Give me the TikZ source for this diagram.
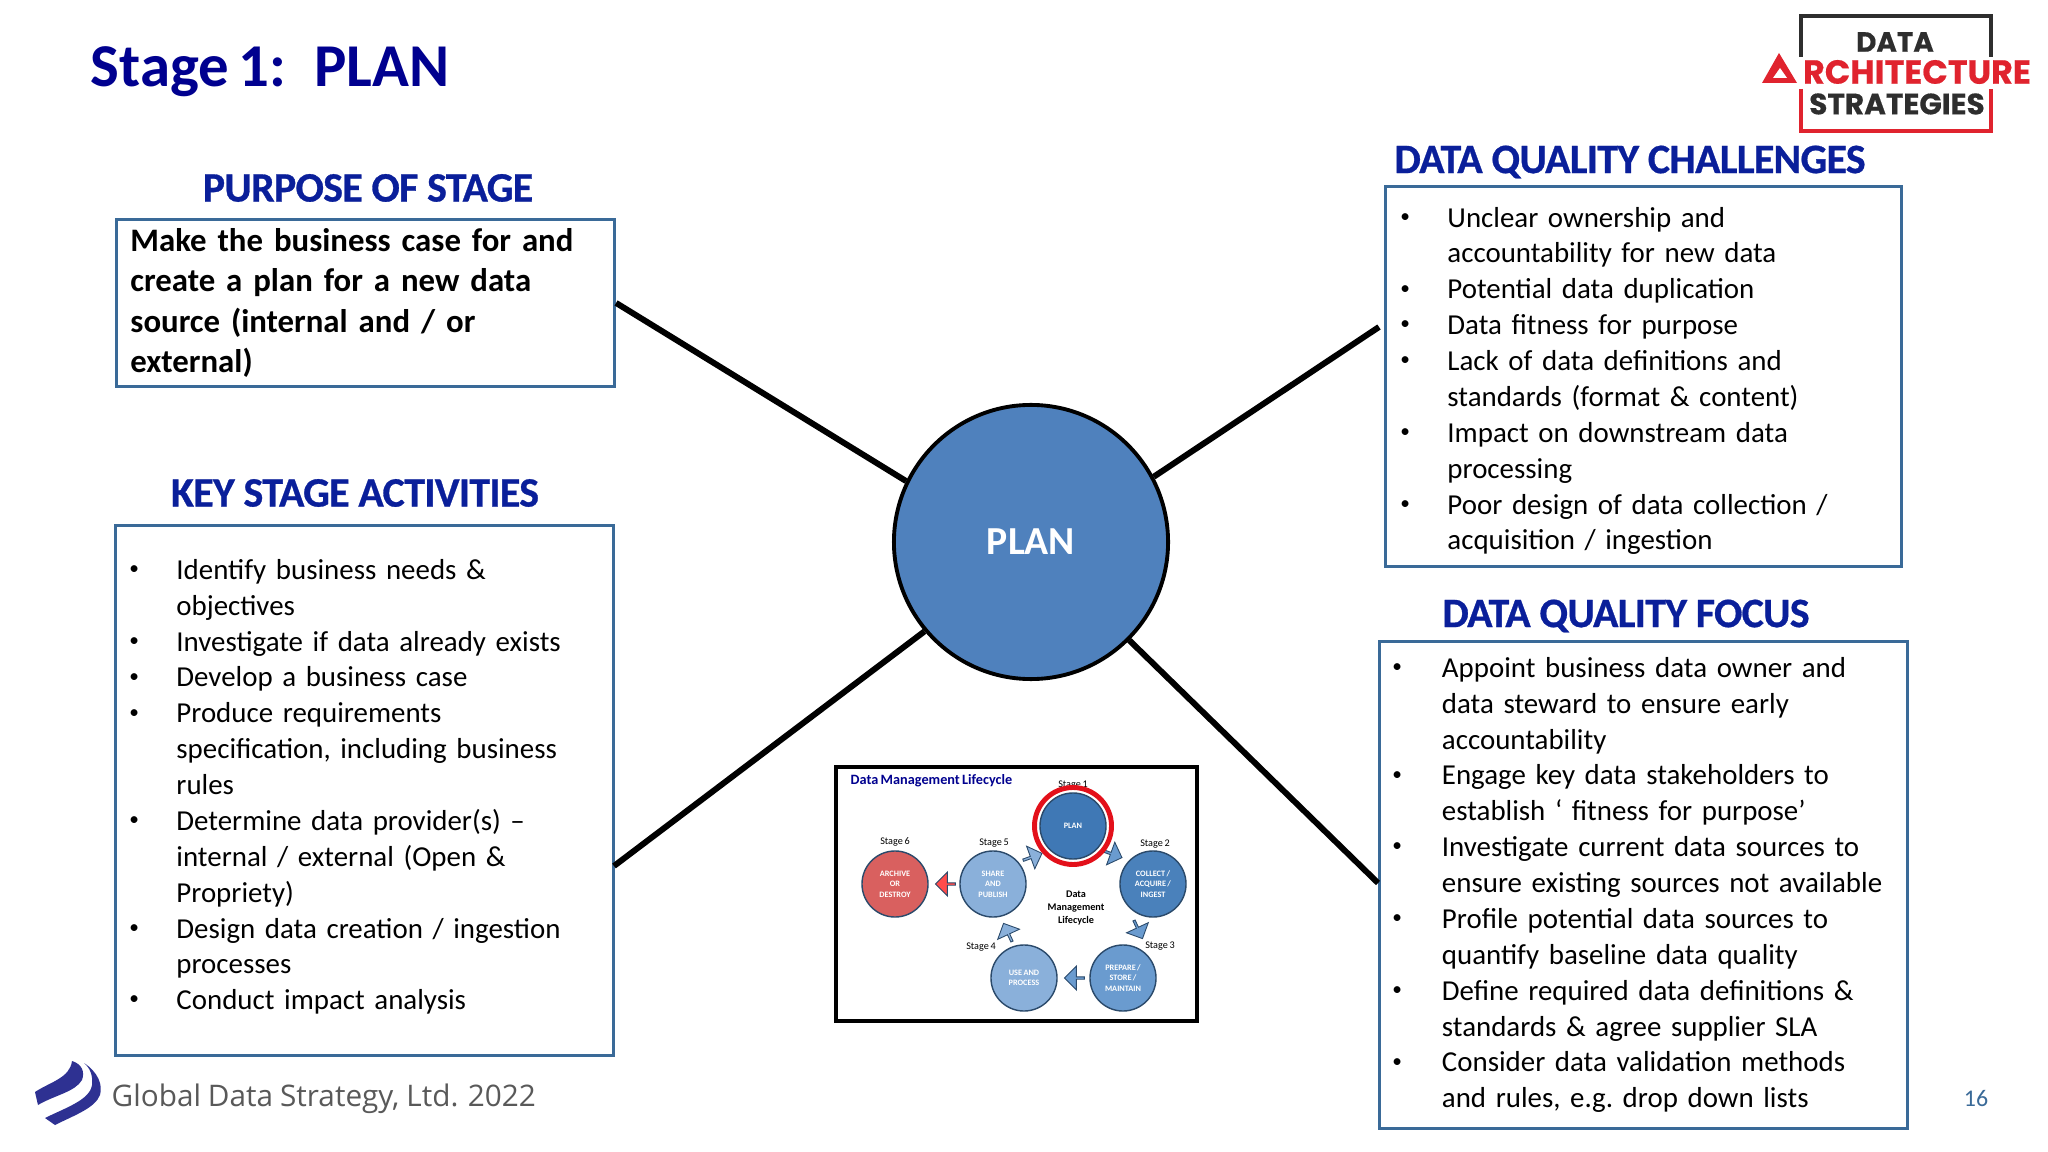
\documentclass[tikz,border=0pt]{standalone}
\usepackage{fontspec}
\setmainfont{Carlito}[WordSpace=0.72]
\newfontfamily\logofont[BoldFeatures={FakeBold=0.4}]{Poppins}
\newfontfamily\footfont{Open Sans}[WordSpace=0.9]
\newfontfamily\headfont[BoldFeatures={FakeBold=0.7,LetterSpace=-1.6}]{Carlito}
\usetikzlibrary{shapes.arrows}
\definecolor{titleblue}{HTML}{00008F}
\definecolor{headblue}{HTML}{0A1F9A}
\definecolor{boxblue}{HTML}{3A6A98}
\definecolor{planblue}{HTML}{4F81BD}
\definecolor{logored}{HTML}{E0232E}
\definecolor{logogrey}{HTML}{2E2E2E}
\definecolor{swoosh}{HTML}{2E3192}
\definecolor{ringline}{HTML}{2B4A6B}
\definecolor{ringred}{HTML}{E3101A}
\definecolor{stageA}{HTML}{3F78B5}
\definecolor{stageB}{HTML}{6A9BCF}
\definecolor{stageC}{HTML}{8AB0DA}
\definecolor{stageD}{HTML}{D9605F}
\tikzset{x=0.01cm,y=-0.01cm,
heading/.style={text=headblue, font=\headfont\fontsize{11.9}{14}\selectfont\bfseries, inner sep=0pt},
infobox/.style={draw=boxblue, line width=0.8pt, anchor=north west, align=left, inner xsep=0pt, inner ysep=0pt, font=\frenchspacing\fontsize{8.22}{10.2}\selectfont},
spoke/.style={line width=1.7pt, black},
stage/.style={circle, draw=ringline, line width=0.4pt, minimum size=0.66cm, inner sep=0pt, text=white, align=center, font=\fontsize{2.35}{3}\selectfont\bfseries},
stagelabel/.style={inner sep=0pt, font=\fontsize{2.9}{3.4}\selectfont},
flow/.style={single arrow, draw=ringline, line width=0.25pt, fill=stageB, minimum width=0.24cm, minimum height=0.2cm, single arrow head extend=0.04cm, inner sep=0pt},
}
\newcommand{\itm}[1]{\makebox[\bulw][l]{\hspace{\buli}\raisebox{0.35ex}{\fontsize{5.5}{6}\selectfont •}}#1}
\newcommand{\cnt}[1]{\hspace{\bulw}#1}
\newlength{\bulw}
\newlength{\buli}

\begin{document}
\begin{tikzpicture}
    \useasboundingbox[fill=white] (0,0) rectangle (2048,1152);
    \node[anchor=base west, inner sep=0pt, text=titleblue, font=\fontsize{17.3}{20}\selectfont\bfseries] (title) at (90,87) {Stage 1:\ \ \hspace{0.08cm}PLAN};
    % logo
    \draw[logogrey, line width=1.4pt] (1801,57) |- (1991,16) -- (1991,57);
    \draw[logored, line width=1.4pt] (1801,89) |- (1991,131) -- (1991,89);
    \fill[logored] (1779,53) -- (1797,83) -- (1762,83) -- cycle;
    \fill[white] (1780,68) -- (1787,78) -- (1773,78) -- cycle;
    \node[inner sep=0pt, text=logogrey, font=\logofont\fontsize{7.9}{9}\selectfont\bfseries] (logodata) at (1895,42) {DATA};
    \node[inner sep=0pt, text=logored, font=\logofont\fontsize{9.5}{10}\selectfont\bfseries] (logoarch) at (1917,72) {RCHITECTURE};
    \node[inner sep=0pt, text=logogrey, font=\logofont\fontsize{8.4}{9}\selectfont\bfseries] (logostrat) at (1897,104) {STRATEGIES};
    % boxes
    \node[heading] (purposehead) at (368,188) {PURPOSE OF STAGE};
    \node[heading] (activityhead) at (355,493) {KEY STAGE ACTIVITIES};
    \node[heading] (challengehead) at (1630,162) {DATA QUALITY CHALLENGES};
    \node[heading] (focushead) at (1626,616) {DATA QUALITY FOCUS};
    \node[infobox, minimum width=4.98cm, minimum height=1.67cm, text width=4.98cm, font=\frenchspacing\fontsize{9.33}{11.5}\selectfont\bfseries] (purpose) at (115,218)
        {\hspace{0.14cm}Make the business case for and\\
         \hspace{0.14cm}create a plan for a new data\\
         \hspace{0.14cm}source (internal and / or\\
         \hspace{0.14cm}external)};
    \setlength{\bulw}{0.61cm}\setlength{\buli}{0.14cm}
    \node[infobox, minimum width=4.98cm, minimum height=5.3cm, text width=4.98cm] (activity) at (114,524)
        {\itm{Identify business needs \&}\\
         \cnt{objectives}\\
         \itm{Investigate if data already exists}\\
         \itm{Develop a business case}\\
         \itm{Produce requirements}\\
         \cnt{specification, including business}\\
         \cnt{rules}\\
         \itm{Determine data provider(s) --}\\
         \cnt{internal / external (Open \&}\\
         \cnt{Propriety)}\\
         \itm{Design data creation / ingestion}\\
         \cnt{processes}\\
         \itm{Conduct impact analysis}\rule[-0.12cm]{0pt}{0pt}};
    \setlength{\bulw}{0.62cm}\setlength{\buli}{0.15cm}
    \node[infobox, minimum width=5.16cm, minimum height=3.8cm, text width=5.16cm] (challenge) at (1384,185)
        {\itm{Unclear ownership and}\rule{0pt}{0.29cm}\\
         \cnt{accountability for new data}\\
         \itm{Potential data duplication}\\
         \itm{Data fitness for purpose}\\
         \itm{Lack of data definitions and}\\
         \cnt{standards (format \& content)}\\
         \itm{Impact on downstream data}\\
         \cnt{processing}\\
         \itm{Poor design of data collection /}\\
         \cnt{acquisition / ingestion}};
    \setlength{\bulw}{0.625cm}\setlength{\buli}{0.13cm}
    \node[infobox, minimum width=5.28cm, minimum height=4.87cm, text width=5.28cm] (focus) at (1378,640)
        {\itm{Appoint business data owner and}\\
         \cnt{data steward to ensure early}\\
         \cnt{accountability}\\
         \itm{Engage key data stakeholders to}\\
         \cnt{establish ‘ fitness for purpose’}\\
         \itm{Investigate current data sources to}\\
         \cnt{ensure existing sources not available}\\
         \itm{Profile potential data sources to}\\
         \cnt{quantify baseline data quality}\\
         \itm{Define required data definitions \&}\\
         \cnt{standards \& agree supplier SLA}\\
         \itm{Consider data validation methods}\\
         \cnt{and rules, e.g. drop down lists}};
    % centre
    \node[circle, draw=black, line width=1.1pt, fill=planblue, minimum size=2.74cm, inner sep=0pt, text=white, font=\fontsize{11.3}{13}\selectfont\bfseries] (plan) at (1031,542) {PLAN};
    \coordinate (activityend) at (614,866);
    \coordinate (challengeend) at (1379,327);
    \coordinate (focusend) at (1378,883);
    \draw[spoke] (purpose.east) -- (plan.154);
    \draw[spoke] (activityend) -- (plan.220);
    \draw[spoke] (challengeend) -- (plan.28);
    \draw[spoke] (focusend) -- (plan.315);
    % lifecycle inset
    \node[draw=black, line width=1.1pt, minimum width=3.6cm, minimum height=2.53cm, inner sep=0pt] (inset) at (1016.5,894) {};
    \node[anchor=west, inner sep=0pt, text=titleblue, font=\fontsize{4.05}{4.6}\selectfont\bfseries] (insettitle) at (850,781) {Data Management Lifecycle};
    \node[stagelabel] (stage1) at (1073,785) {Stage 1};
    \node[stage, fill=stageA] (plansmall) at (1073,826) {PLAN};
    \node[stage, fill=stageA!75!stageB] (collect) at (1153,884) {COLLECT /\\ACQUIRE /\\INGEST};
    \node[stage, fill=stageB] (prepare) at (1123,978) {PREPARE /\\STORE /\\MAINTAIN};
    \node[stage, fill=stageC] (useproc) at (1024,978) {USE AND\\PROCESS};
    \node[stage, fill=stageC] (share) at (993,884) {SHARE\\AND\\PUBLISH};
    \node[stage, fill=stageD] (archive) at (895,884) {ARCHIVE\\OR\\DESTROY};
    \node[stagelabel] (stage2) at (1155,844) {Stage 2};
    \node[stagelabel] (stage3) at (1160,946) {Stage 3};
    \node[stagelabel] (stage4) at (981,947) {Stage 4};
    \node[stagelabel] (stage5) at (994,843) {Stage 5};
    \node[stagelabel] (stage6) at (895,842) {Stage 6};
    \node[stagelabel, align=center, font=\fontsize{2.9}{3.6}\selectfont\bfseries] (insetcentre) at (1076,908) {Data\\Management\\Lifecycle};
    \node[flow, rotate=-20] (flowa) at (1112,854) {};
    \node[flow, rotate=-65] (flowb) at (1138,929) {};
    \node[flow, rotate=180] (flowc) at (1075,978) {};
    \node[flow, rotate=115, fill=stageC] (flowd) at (1008,933) {};
    \node[flow, rotate=20, fill=stageC] (flowe) at (1032,857) {};
    \node[flow, rotate=180, fill=red!70!white] (flowf) at (946,884) {};
    \draw[ringred, line width=1.4pt] (plansmall) circle[radius=38.5];
    % footer
    \fill[swoosh] (35,1092) .. controls (50,1082) and (70,1078) .. (72,1061) .. controls (82,1064) and (85,1072) .. (82,1080) .. controls (75,1092) and (55,1095) .. (38,1105) -- cycle;
    \fill[swoosh] (84,1063) .. controls (98,1072) and (103,1085) .. (100,1095) .. controls (95,1108) and (75,1115) .. (55,1125) -- (45,1118) .. controls (65,1108) and (90,1100) .. (92,1085) .. controls (93,1075) and (90,1068) .. (84,1063) -- cycle;
    \node[anchor=base west, inner sep=0pt, text=black!65, font=\footfont\fontsize{8.45}{10}\selectfont] (footer) at (111,1106) {Global Data Strategy, Ltd. 2022};
    \node[inner sep=0pt, text=boxblue, font=\fontsize{6.8}{8}\selectfont] (pagenum) at (1976,1099) {16};
\end{tikzpicture}
\end{document}
